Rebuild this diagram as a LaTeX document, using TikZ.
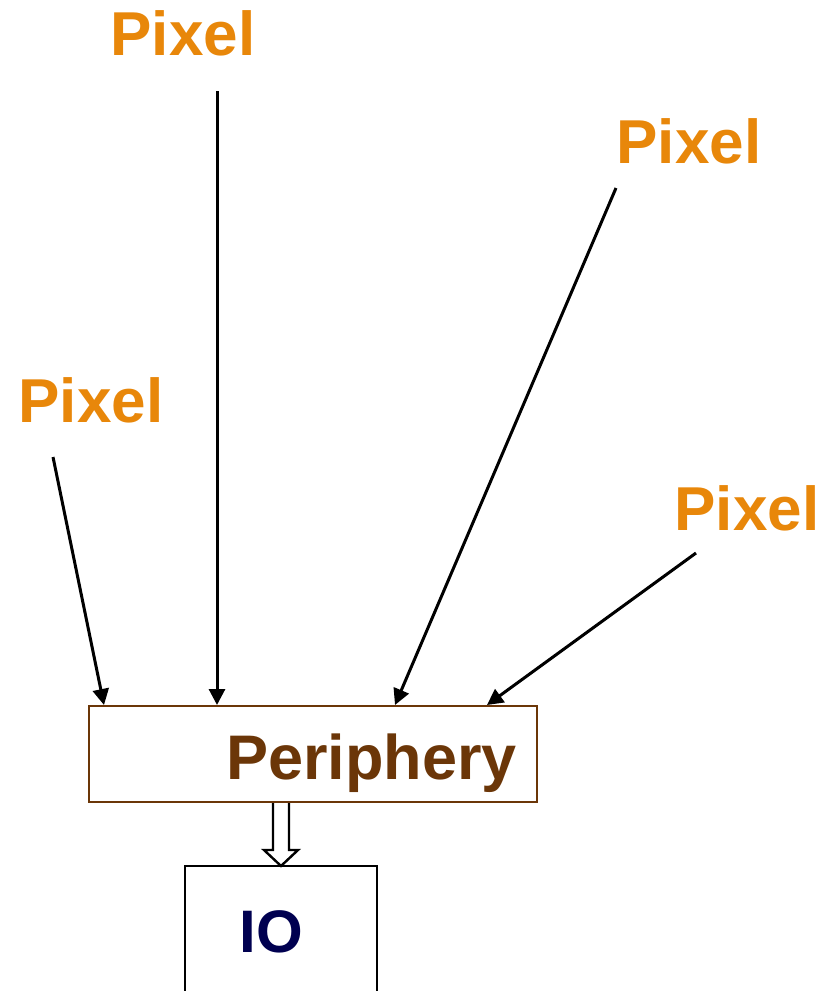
\documentclass[tikz,border=0pt]{standalone}
\usepackage{fontspec}
\setmainfont{Liberation Sans}
\usetikzlibrary{arrows.meta}
\definecolor{pixorange}{HTML}{E8870A}
\definecolor{perbrown}{HTML}{6B3608}
\definecolor{ionavy}{HTML}{000050}
\begin{document}
\begin{tikzpicture}[x=1pt,y=-1pt,
  pixlabel/.style={font=\fontsize{62}{62}\selectfont\bfseries, text=pixorange, anchor=base, inner sep=0pt},
  feed/.style={line width=3pt, -{Triangle[length=16pt,width=16pt]}},
  blockbox/.style={draw, line width=2.2pt, inner sep=0pt}]
\useasboundingbox (0,0) rectangle (827,991);

% pixel sources
\node[pixlabel] (p1) at (183,55) {Pixel};
\node[pixlabel] (p2) at (689,163) {Pixel};
\node[pixlabel] (p3) at (91,422) {Pixel};
\node[pixlabel] (p4) at (747,530) {Pixel};

% readout chain
\node[blockbox, draw=perbrown, minimum width=448pt, minimum height=96pt] (per) at (313,754) {};
\node[font=\fontsize{63}{63}\selectfont\bfseries, text=perbrown, anchor=base east, inner sep=0pt] (pertext) at (517,779) {Periphery};
\draw[line width=2.6pt] (185,1000) |- (377,866) -- (377,1000);
\coordinate (iotop) at (281,866);
\node[font=\fontsize{60}{60}\selectfont\bfseries, text=ionavy, anchor=base, inner sep=0pt] (io) at (271,952) {IO};

% wire start points
\coordinate (s1) at (217,91);
\coordinate (s2) at (616,188);
\coordinate (s3) at (53,457);
\coordinate (s4) at (696,553);
% wire end points on the periphery top edge
\coordinate (e1) at (217,705);
\coordinate (e2) at (395,705);
\coordinate (e3) at (104,705);
\coordinate (e4) at (487,705);

\draw[feed] (s1) -- (e1);
\draw[feed] (s2) -- (e2);
\draw[feed] (s3) -- (e3);
\draw[feed] (s4) -- (e4);

% hollow block arrow from periphery to IO
\draw[line width=2.4pt, fill=white, line join=miter]
  (273,803) -- (273,850) -- (264,850) -- (iotop) -- (298,850) -- (289,850) -- (289,803);
\end{tikzpicture}
\end{document}
